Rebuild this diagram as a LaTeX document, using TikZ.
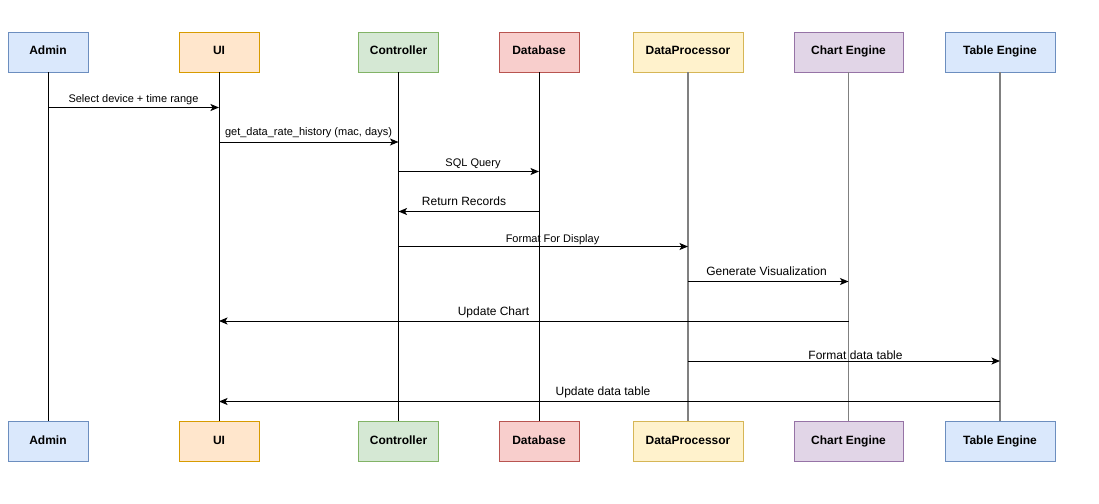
\documentclass[tikz,border=0pt]{standalone}
\usepackage{fontspec}
\setmainfont{Liberation Sans}
\usepackage{tikz}
\usetikzlibrary{arrows.meta}
\definecolor{BlueFill}{HTML}{DAE8FC}
\definecolor{BlueLine}{HTML}{6C8EBF}
\definecolor{OrangeFill}{HTML}{FFE6CC}
\definecolor{OrangeLine}{HTML}{D79B00}
\definecolor{GreenFill}{HTML}{D5E8D4}
\definecolor{GreenLine}{HTML}{82B366}
\definecolor{RedFill}{HTML}{F8CECC}
\definecolor{RedLine}{HTML}{B85450}
\definecolor{YellowFill}{HTML}{FFF2CC}
\definecolor{YellowLine}{HTML}{D6B656}
\definecolor{PurpleFill}{HTML}{E1D5E7}
\definecolor{PurpleLine}{HTML}{9673A6}
\definecolor{LifeGray}{HTML}{808080}
\tikzset{
  actor/.style={draw,line width=.9pt,minimum height=40pt,inner sep=0pt,
    text height=9pt,text depth=3pt,
    font=\fontsize{12}{14}\selectfont\bfseries},
  lifeblack/.style={line width=1pt,black},
  lifegray/.style={line width=1.8pt,LifeGray},
  msg/.style={-{Stealth[length=8.5pt,width=7pt,inset=2pt]},line width=1pt}
}

\begin{document}
\begin{tikzpicture}[x=1pt,y=-1pt]
  \useasboundingbox (0,0) rectangle (1099,503);
  % participants, top and bottom
  \foreach \nm/\x/\w/\f/\d/\ls/\txt in {
      admin/48/80/BlueFill/BlueLine/lifeblack/Admin,
      ui/219/80/OrangeFill/OrangeLine/lifeblack/UI,
      ctrl/398.5/80/GreenFill/GreenLine/lifeblack/Controller,
      db/539/80/RedFill/RedLine/lifeblack/Database,
      proc/688/110/YellowFill/YellowLine/lifegray/DataProcessor,
      chart/848.5/109/PurpleFill/PurpleLine/lifegray/Chart Engine,
      table/1000/110/BlueFill/BlueLine/lifegray/Table Engine}{
    \node[actor,fill=\f,draw=\d,minimum width=\w pt] (\nm) at (\x,52) {\txt};
    \node[actor,fill=\f,draw=\d,minimum width=\w pt] (\nm-b) at (\x,441.5) {\txt};
    \draw[\ls] (\nm) -- (\nm-b);
  }
  % messages
  \foreach \src/\dst/\y/\lx/\ly/\fs/\txt in {
      admin/ui/107.5/133.5/98.5/11/{Select device + time range},
      ui/ctrl/142/308.5/131.5/11/{get\_data\_rate\_history (mac, days)},
      ctrl/db/171.5/473/162.5/11/{SQL Query},
      db/ctrl/211.5/464/201/12/{Return Records},
      ctrl/proc/246.5/552.5/238/11/{Format For Display},
      proc/chart/281.5/766.5/271/12/{Generate Visualization},
      chart/ui/321/493.5/311/12/{Update Chart},
      proc/table/361/855.5/355/12/{Format data table},
      table/ui/401.5/603/391/12/{Update data table}}{
    \draw[msg] (\src |- 0,\y) -- (\dst |- 0,\y);
    \node[anchor=base,inner sep=0pt,font=\fontsize{\fs}{\fs}\selectfont]
      at (\lx,\ly+4) {\txt};
  }
\end{tikzpicture}
\end{document}
